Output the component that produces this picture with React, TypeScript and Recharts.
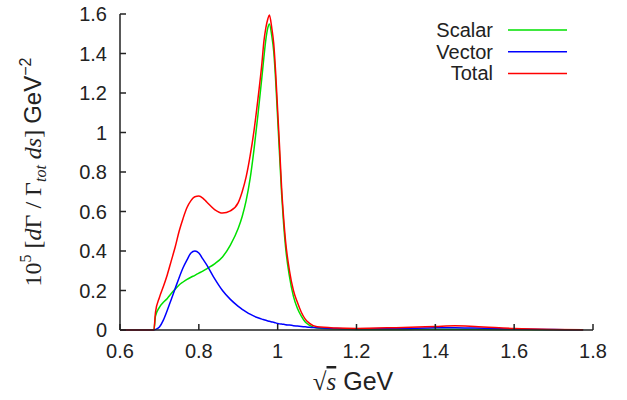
import {LineChart, Line, XAxis, YAxis, Legend} from 'recharts';

// sqrt(s) in GeV
const sqrtS = [
  0.6, 0.686, 0.69, 0.7, 0.71, 0.72, 0.73, 0.74, 0.75, 0.76, 0.77, 0.78, 0.79, 0.8, 0.81, 0.82,
  0.84, 0.86, 0.88, 0.9, 0.91, 0.92, 0.93, 0.94, 0.95, 0.96, 0.965, 0.97, 0.975, 0.979, 0.985,
  0.99, 0.995, 1.0, 1.005, 1.01, 1.015, 1.02, 1.03, 1.04, 1.05, 1.06, 1.07, 1.08, 1.1, 1.15,
  1.2, 1.3, 1.4, 1.45, 1.5, 1.6, 1.7, 1.775,
];

const scalar = [
  0, 0, 0.07, 0.115, 0.14, 0.16, 0.185, 0.207, 0.228, 0.243, 0.256, 0.267, 0.277, 0.288, 0.298, 0.31,
  0.335, 0.37, 0.43, 0.515, 0.575, 0.655, 0.765, 0.915, 1.09, 1.28, 1.38, 1.47, 1.53, 1.55, 1.49,
  1.41, 1.26, 1.07, 0.88, 0.69, 0.54, 0.42, 0.27, 0.17, 0.11, 0.07, 0.04, 0.025, 0.01, 0.005,
  0.003, 0.003, 0.004, 0.004, 0.004, 0.002, 0.001, 0,
];

const vector = [
  0, 0, 0.003, 0.015, 0.05, 0.1, 0.155, 0.21, 0.265, 0.315, 0.355, 0.39, 0.4, 0.39, 0.36, 0.33,
  0.26, 0.2, 0.155, 0.12, 0.105, 0.092, 0.08, 0.07, 0.062, 0.055, 0.052, 0.049, 0.046, 0.044, 0.041,
  0.039, 0.036, 0.033, 0.031, 0.03, 0.029, 0.027, 0.025, 0.022, 0.02, 0.018, 0.016, 0.014, 0.012, 0.008,
  0.006, 0.007, 0.011, 0.012, 0.01, 0.005, 0.002, 0.001,
];

const total = [
  0, 0, 0.09, 0.165, 0.22, 0.28, 0.35, 0.42, 0.5, 0.565, 0.62, 0.655, 0.675, 0.678, 0.668, 0.648,
  0.61, 0.592, 0.603, 0.645, 0.7, 0.775, 0.88, 1.01, 1.17, 1.35, 1.46, 1.53, 1.575, 1.595, 1.53,
  1.45, 1.3, 1.11, 0.92, 0.72, 0.57, 0.45, 0.3, 0.2, 0.14, 0.09, 0.055, 0.035, 0.016, 0.01,
  0.008, 0.012, 0.018, 0.021, 0.018, 0.008, 0.003, 0.001,
];

const xTicks = [0.6, 0.8, 1, 1.2, 1.4, 1.6, 1.8];
const yTicks = [0, 0.2, 0.4, 0.6, 0.8, 1, 1.2, 1.4, 1.6];

const seriesNames = ['Scalar', 'Vector', 'Total'];
const seriesColors = ['#00e000', '#0000ff', '#ff0000'];

const data = sqrtS.map((x, i) => ({x, scalar: scalar[i], vector: vector[i], total: total[i]}));

const font = '"Liberation Sans", Arial, sans-serif';
const serif = '"Liberation Serif", "DejaVu Serif", serif';
const ink = '#222';

function renderLegend() {
  return (
    <svg width={210} height={90}>
      {seriesNames.map((name, i) => (
        <g key={name}>
          <text x={113} y={30 + i * 21.7} textAnchor="end" dominantBaseline="central"
                fontFamily={font} fontSize={20} fill={ink}>{name}</text>
          <line x1={128} x2={187} y1={30 + i * 21.7} y2={30 + i * 21.7}
                stroke={seriesColors[i]} strokeWidth={1.5}/>
        </g>
      ))}
    </svg>
  );
}

function YTitle() {
  return (
    <text transform="rotate(-90, 33, 172)" x={33} y={180} textAnchor="middle" fontFamily={serif}
          fontSize={24} fill={ink}>
      <tspan>10</tspan>
      <tspan dy={-10} fontSize={16}>5</tspan>
      <tspan dy={10}> [</tspan>
      <tspan fontStyle="italic">d</tspan>
      <tspan>Γ / Γ</tspan>
      <tspan dy={5} fontSize={16} fontStyle="italic">tot</tspan>
      <tspan dy={-5} fontStyle="italic"> ds</tspan>
      <tspan>] </tspan>
      <tspan fontFamily={font} fontSize={24}>GeV</tspan>
      <tspan dy={-10} fontFamily={font} fontSize={16}>−2</tspan>
    </text>
  );
}

function XTitle() {
  return (
    <text x={353} y={390} textAnchor="middle" fill={ink} fontSize={25}>
      <tspan fontFamily={serif}>√</tspan>
      <tspan fontFamily={serif} fontStyle="italic" style={{textDecoration: 'overline'}}>s</tspan>
      <tspan fontFamily={font}> GeV</tspan>
    </text>
  );
}

export default function App() {
  const tickStyle = {fontFamily: font, fontSize: 20, fill: ink};
  return (
    <div style={{position: 'absolute', left: 0, top: 0, width: 627, height: 400, background: '#fff'}}>
      <LineChart width={627} height={400} data={data} margin={{top: 14, right: 34, bottom: 30, left: 60}}>
        <XAxis dataKey="x" type="number" domain={[0.6, 1.8]} ticks={xTicks} tick={tickStyle}
               tickSize={-6} tickMargin={20} height={40} stroke={ink} strokeWidth={1.5}
               label={<XTitle/>}/>
        <XAxis xAxisId="top" dataKey="x" type="number" orientation="top" domain={[0.6, 1.8]}
               ticks={xTicks} tick={false} tickSize={-6} height={0} stroke={ink} strokeWidth={1.5}/>
        <YAxis type="number" domain={[0, 1.6]} ticks={yTicks} tick={tickStyle} tickSize={-6}
               tickMargin={19} width={60} stroke={ink} strokeWidth={1.5} label={<YTitle/>}/>
        <YAxis yAxisId="right" type="number" orientation="right" domain={[0, 1.6]} ticks={yTicks}
               tick={false} tickSize={-6} width={0} stroke={ink} strokeWidth={1.5}/>
        <Legend layout="vertical" align="center" verticalAlign="middle" content={renderLegend}
                wrapperStyle={{top: 0, left: 380, width: 210, height: 90}}/>
        <Line dataKey="scalar" name="Scalar" type="monotone" stroke={seriesColors[0]} strokeWidth={1.5}
              dot={false} isAnimationActive={false}/>
        <Line dataKey="vector" name="Vector" type="monotone" stroke={seriesColors[1]} strokeWidth={1.5}
              dot={false} isAnimationActive={false}/>
        <Line dataKey="total" name="Total" type="monotone" stroke={seriesColors[2]} strokeWidth={1.5}
              dot={false} isAnimationActive={false}/>
      </LineChart>
    </div>
  );
}
